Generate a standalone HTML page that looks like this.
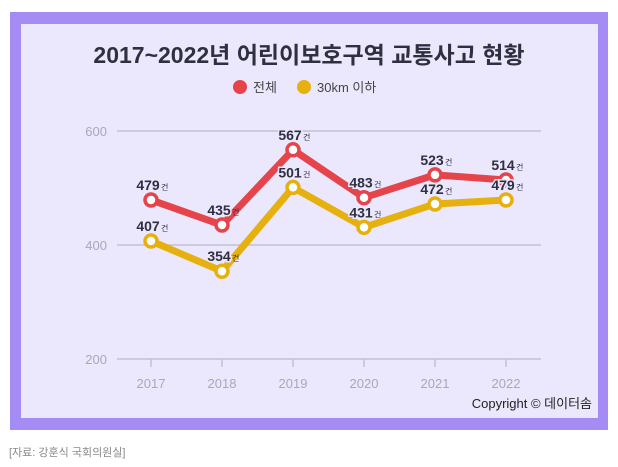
<!DOCTYPE html>
<html><head><meta charset="utf-8"><style>
body{margin:0;width:618px;height:467px;background:#fff;overflow:hidden;font-family:"Liberation Sans","Noto Sans CJK KR",sans-serif;}
</style></head><body>
<div style="position:absolute;left:10px;top:12px;width:598px;height:418px;background:#a58cf4;"></div>
<div style="position:absolute;left:21px;top:24px;width:577px;height:394px;background:#ebe8fd;"></div>
<svg id="chart" width="618" height="467" style="position:absolute;left:0;top:0">
<text x="309" y="63" text-anchor="middle" font-size="23" font-weight="bold" fill="#2f2f3f">2017~2022년 어린이보호구역 교통사고 현황</text>
<g>
<circle cx="240" cy="87" r="7" fill="#e5444b"/>
<text x="253" y="92" font-size="13" fill="#444">전체</text>
<circle cx="304" cy="87" r="7" fill="#e6b00f"/>
<text x="317" y="92" font-size="13" fill="#444">30km 이하</text>
</g>
<g id="axes"></g><g id="series"></g>
<text x="592" y="408" text-anchor="end" font-size="13" fill="#222">Copyright © 데이터솜</text>
<text x="9" y="456" font-size="11" fill="#888">[자료: 강훈식 국회의원실]</text>
</svg>
<script>
const years=['2017','2018','2019','2020','2021','2022'];
const total=[479,435,567,483,523,514];
const under30=[407,354,501,431,472,479];
const yTicks=[200,400,600];
const NS='http://www.w3.org/2000/svg';
const X=i=>151+i*71;
const Y=v=>359-(v-200)*0.57;
function mk(tag,attrs,parent){const e=document.createElementNS(NS,tag);for(const k in attrs)e.setAttribute(k,attrs[k]);parent.appendChild(e);return e;}
const ax=document.getElementById('axes'),sg=document.getElementById('series');
yTicks.forEach(t=>{
 const l=mk('line',{x1:117,x2:541,y1:Y(t),y2:Y(t),stroke:'#c3bfd6','stroke-width':1.5},ax);
 
 
 const tx=mk('text',{x:107,y:Y(t)+5,'text-anchor':'end','font-size':13,fill:'#aaa6bb'},ax);
 tx.textContent=t;
 
 
});
years.forEach((y,i)=>{
 const l=mk('line',{x1:X(i),x2:X(i),y1:359,y2:367,stroke:'#c3bfd6','stroke-width':1.5},ax);
 
 
 const tx=mk('text',{x:X(i),y:388,'text-anchor':'middle','font-size':13,fill:'#aaa6bb'},ax);
 tx.textContent=y;
 
 
});
function series(vals,color,name){
 const p=mk('polyline',{points:vals.map((v,i)=>X(i)+','+Y(v)).join(' '),fill:'none',stroke:color,'stroke-width':7,'stroke-linejoin':'round'},sg);
 
 
 vals.forEach((v,i)=>{
  const c=mk('circle',{cx:X(i),cy:Y(v),r:6,fill:'#fff',stroke:color,'stroke-width':3.5},sg);
  
  
 });
}
function labels(vals,name){
 vals.forEach((v,i)=>{
  const t=mk('text',{x:X(i)-3,y:Y(v)-10,'text-anchor':'middle','font-size':14,'font-weight':'bold',fill:'#2f2f3f',stroke:'#ebe8fd','stroke-width':3,'paint-order':'stroke'},sg);
  t.textContent=v;
  
  
  const u=mk('text',{x:X(i)+10,y:Y(v)-10,'font-size':8,fill:'#2f2f3f'},sg);
  u.textContent='건';
  
  
 });
}
series(total,'#e5444b','total');
series(under30,'#e6b00f','under30');
labels(total,'total');
labels(under30,'under30');
</script>
</body></html>
